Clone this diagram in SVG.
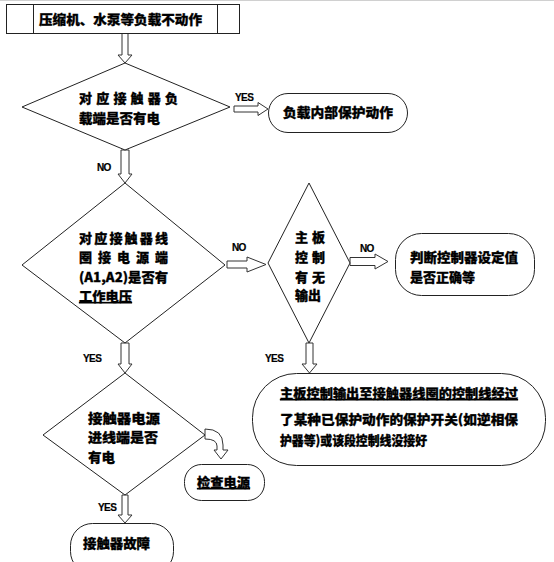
<svg xmlns="http://www.w3.org/2000/svg" width="554" height="562" viewBox="0 0 554 562">
<style>
  .box { fill: #fff; stroke: #222; stroke-width: 1; }
  .arr { fill: #fff; stroke: #333; stroke-width: 1; stroke-linejoin: miter; }
  .t { font-family: "Noto Sans CJK SC", "Liberation Sans", sans-serif; font-size: 13px; font-weight: 900; fill: #000; stroke: #000; stroke-width: 0.3px; }
  .u { text-decoration: underline; }
  .lbl { font-family: "Liberation Sans", "DejaVu Sans", sans-serif; font-size: 10px; font-weight: bold; fill: #000; letter-spacing: -0.6px; stroke: #000; stroke-width: 0.2px; }
</style>
<rect width="554" height="562" fill="#fff"/>
<line x1="0" y1="0.5" x2="554" y2="0.5" stroke="#d0d0d0" stroke-width="1"/>

<g id="connectors">
  <path class="arr" d="M122,33 L128,33 L128,55 L132,55 L125,63 L118,55 L122,55 Z"/>
  <path class="arr" d="M234,106 L258,106 L258,102.5 L268,109 L258,115.5 L258,112 L234,112 Z"/>
  <path class="arr" d="M121,150 L129,150 L129,174 L132,174 L125,183 L118,174 L121,174 Z"/>
  <path class="arr" d="M227,261 L247,261 L247,257 L266,264.5 L247,272 L247,268 L227,268 Z"/>
  <path class="arr" d="M350,257.5 L375,257.5 L375,254 L388,261.5 L375,269 L375,265.5 L350,265.5 Z"/>
  <path class="arr" d="M306,343 L313,343 L313,364 L317,364 L309.5,373 L302,364 L306,364 Z"/>
  <path class="arr" d="M121,343 L129,343 L129,364 L132,364 L125,373 L118,364 L121,364 Z"/>
  <path class="arr" d="M205,429 Q223,429 223,445 L223,450 L228,450 L221,459 L214,450 L217,450 L217,446 Q217,439 205,439 Z"/>
  <path class="arr" d="M122,495 L128,495 L128,515 L132,515 L125,523 L118,515 L122,515 Z"/>
</g>

<g id="labels">
  <text class="lbl" x="235" y="101">YES</text>
  <text class="lbl" x="97" y="171">NO</text>
  <text class="lbl" x="232" y="251">NO</text>
  <text class="lbl" x="360" y="252">NO</text>
  <text class="lbl" x="83" y="362">YES</text>
  <text class="lbl" x="265" y="362">YES</text>
  <text class="lbl" x="98" y="511">YES</text>
</g>

<g id="start">
  <rect class="box" x="6.5" y="4.5" width="233" height="29"/>
  <line x1="33.5" y1="4.5" x2="33.5" y2="33.5" stroke="#222"/>
  <line x1="217.5" y1="4.5" x2="217.5" y2="33.5" stroke="#222"/>
  <text class="t" x="39" y="23.5" textLength="163" lengthAdjust="spacingAndGlyphs">压缩机、水泵等负载不动作</text>
</g>

<g id="d1">
  <polygon class="box" points="125,63 230,107 125,150 22,107"/>
  <text class="t" x="79" y="103" textLength="99" lengthAdjust="spacing">对应接触器负</text>
  <text class="t" x="79" y="123" textLength="81" lengthAdjust="spacingAndGlyphs">载端是否有电</text>
</g>

<g id="r1">
  <rect class="box" x="268.5" y="93.5" width="139" height="39" rx="19.5" ry="19.5"/>
  <text class="t" x="283" y="117" textLength="110" lengthAdjust="spacingAndGlyphs">负载内部保护动作</text>
</g>

<g id="d2">
  <polygon class="box" points="125,183 225,265 125,343 22,265"/>
  <text class="t" x="79" y="243" textLength="89" lengthAdjust="spacing">对应接触器线</text>
  <text class="t" x="79" y="262" textLength="89" lengthAdjust="spacing">圈接电源端</text>
  <text class="t" x="79" y="282" textLength="89" lengthAdjust="spacingAndGlyphs">(A1,A2)是否有</text>
  <text class="t u" x="79" y="301" textLength="53" lengthAdjust="spacingAndGlyphs">工作电压</text>
</g>

<g id="d3">
  <polygon class="box" points="309,183 350,263 309,343 268,263"/>
  <text class="t" x="295" y="242" textLength="30" lengthAdjust="spacing">主板</text>
  <text class="t" x="295" y="262" textLength="30" lengthAdjust="spacing">控制</text>
  <text class="t" x="295" y="282" textLength="30" lengthAdjust="spacing">有无</text>
  <text class="t" x="295" y="300" textLength="26" lengthAdjust="spacingAndGlyphs">输出</text>
</g>

<g id="r2">
  <rect class="box" x="395.5" y="233.5" width="139" height="62" rx="26" ry="26"/>
  <text class="t" x="410" y="262" textLength="108" lengthAdjust="spacingAndGlyphs">判断控制器设定值</text>
  <text class="t" x="410" y="282" textLength="65" lengthAdjust="spacingAndGlyphs">是否正确等</text>
</g>

<g id="r3">
  <rect class="box" x="252.5" y="373.5" width="293" height="92" rx="44" ry="44"/>
  <text class="t u" x="280" y="398" textLength="238" lengthAdjust="spacingAndGlyphs">主板控制输出至接触器线圈的控制线经过</text>
  <text class="t" x="280" y="424" textLength="238" lengthAdjust="spacingAndGlyphs">了某种已保护动作的保护开关(如逆相保</text>
  <text class="t" x="280" y="445" textLength="147" lengthAdjust="spacingAndGlyphs">护器等)或该段控制线没接好</text>
</g>

<g id="d4">
  <polygon class="box" points="125,373 205,435 125,495 43,435"/>
  <text class="t" x="88" y="423" textLength="72" lengthAdjust="spacingAndGlyphs">接触器电源</text>
  <text class="t" x="88" y="442" textLength="70" lengthAdjust="spacingAndGlyphs">进线端是否</text>
  <text class="t" x="88" y="462" textLength="27" lengthAdjust="spacingAndGlyphs">有电</text>
</g>

<g id="r4">
  <rect class="box" x="184.5" y="464.5" width="80" height="36" rx="17" ry="17"/>
  <text class="t u" x="197" y="487" textLength="53" lengthAdjust="spacingAndGlyphs">检查电源</text>
</g>

<g id="r5">
  <rect class="box" x="70.5" y="523.5" width="103" height="50" rx="22" ry="22"/>
  <text class="t" x="83" y="548" textLength="67" lengthAdjust="spacingAndGlyphs">接触器故障</text>
</g>
</svg>
